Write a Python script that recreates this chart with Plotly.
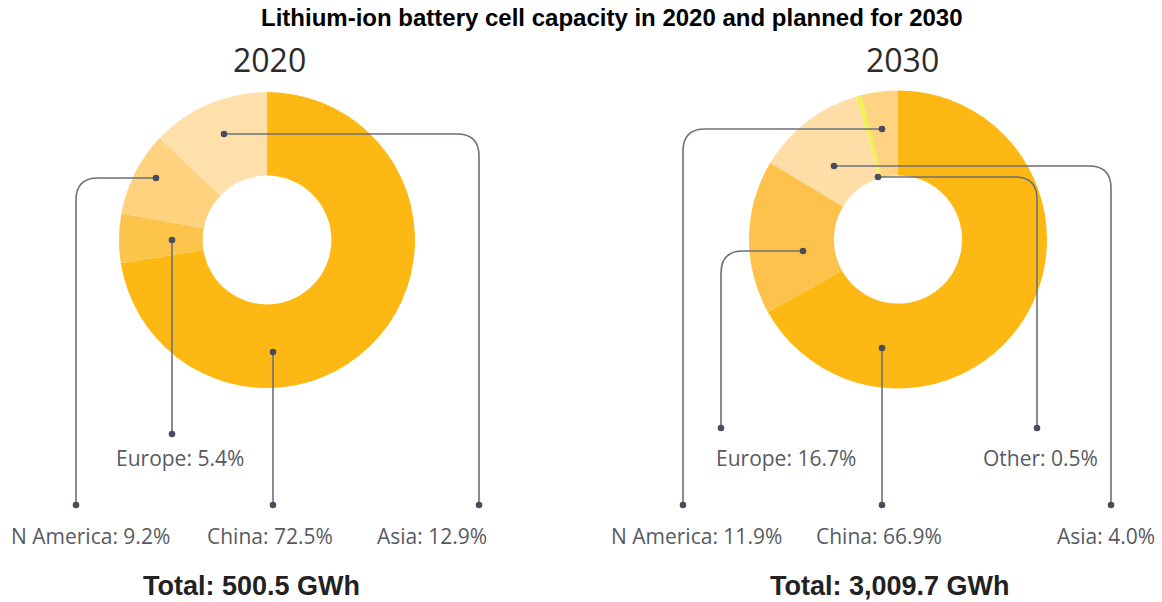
import plotly.graph_objects as go

# ---- data ----
regions_2020 = ["China", "Europe", "N America", "Asia"]
share_2020 = [72.5, 5.4, 9.2, 12.9]
colors_2020 = ["#FDB813", "#FDC44C", "#FED27F", "#FFE0AA"]

regions_2030 = ["China", "Europe", "N America", "Other", "Asia"]
share_2030 = [66.9, 16.7, 11.9, 0.5, 4.0]
colors_2030 = ["#FDB813", "#FDC24B", "#FFDDA6", "#EEF54A", "#FED382"]

totals = ["Total: 500.5 GWh", "Total: 3,009.7 GWh"]
years = ["2020", "2030"]

W, H = 1162, 602


def px(x):
    return x / W


def py(y):
    return 1 - y / H


fig = go.Figure()
fig.add_trace(go.Pie(
    labels=regions_2020, values=share_2020, sort=False, direction="clockwise",
    rotation=0, hole=0.435, textinfo="none", hoverinfo="label+percent",
    marker=dict(colors=colors_2020, line=dict(width=0)),
    domain=dict(x=[px(119), px(415)], y=[py(388), py(92)]), showlegend=False))
fig.add_trace(go.Pie(
    labels=regions_2030, values=share_2030, sort=False, direction="clockwise",
    rotation=0, hole=0.43, textinfo="none", hoverinfo="label+percent",
    marker=dict(colors=colors_2030, line=dict(width=0)),
    domain=dict(x=[px(749), px(1047)], y=[py(389), py(90)]), showlegend=False))

# ---- leader lines: (start_x, start_y, corner_x, end_y) in pixels ----
leaders = [
    (224, 134, 479, 505),   # 2020 Asia
    (156, 178, 76, 505),    # 2020 N America
    (172, 240, 172, 434),   # 2020 Europe
    (273, 352, 273, 505),   # 2020 China
    (882, 129, 683, 505),   # 2030 N America
    (834, 166, 1111, 505),  # 2030 Asia
    (878, 177, 1037, 428),  # 2030 Other
    (803, 251, 721, 428),   # 2030 Europe
    (882, 348, 882, 505),   # 2030 China
]
line_col = "#6E6F7C"
dot_col = "#4A4B5C"
shapes = []
r = 22
for x0, y0, xc, y1 in leaders:
    if xc == x0:
        path = f"M {px(x0)} {py(y0)} L {px(x0)} {py(y1)}"
    else:
        s = 1 if xc > x0 else -1
        path = (f"M {px(x0)} {py(y0)} L {px(xc - s * r)} {py(y0)} "
                f"Q {px(xc)} {py(y0)} {px(xc)} {py(y0 + r)} L {px(xc)} {py(y1)}")
    shapes.append(dict(type="path", path=path, xref="paper", yref="paper",
                       line=dict(color=line_col, width=1.6)))
    for (cx, cy) in [(x0, y0), (xc, y1)]:
        rd = 3.3
        shapes.append(dict(type="circle", xref="paper", yref="paper",
                           x0=px(cx - rd), x1=px(cx + rd), y0=py(cy + rd), y1=py(cy - rd),
                           fillcolor=dot_col, line=dict(width=0)))

# ---- labels: (x, y, anchor) per region ----
label_font = dict(family="Open Sans", size=21, color="#585A62")
annotations = []
lab2020 = {"China": (270, 536, "center"), "Europe": (180, 458, "center"),
           "N America": (172, 536, "right"), "Asia": (489, 536, "right")}
lab2030 = {"China": (879, 536, "center"), "Europe": (786, 458, "center"),
           "N America": (696, 536, "center"), "Other": (1040, 458, "center"),
           "Asia": (1157, 536, "right")}
for regs, vals, labs in [(regions_2020, share_2020, lab2020), (regions_2030, share_2030, lab2030)]:
    for reg, v in zip(regs, vals):
        x, y, anc = labs[reg]
        annotations.append(dict(text=f"{reg}: {v:.1f}%", x=px(x), y=py(y), xref="paper",
                                yref="paper", xanchor=anc, yanchor="middle",
                                showarrow=False, font=label_font))

for yr, xc in zip(years, [269, 902]):
    annotations.append(dict(text=yr, x=px(xc), y=py(60), xref="paper", yref="paper",
                            xanchor="center", yanchor="middle", showarrow=False,
                            font=dict(family="Open Sans", size=32, color="#2B2B2B")))
for t, xc in zip(totals, [251, 890]):
    annotations.append(dict(text=f"<b>{t}</b>", x=px(xc), y=py(586), xref="paper",
                            yref="paper", xanchor="center", yanchor="middle",
                            showarrow=False,
                            font=dict(family="Liberation Sans, Arial", size=27, color="#222222")))

annotations.append(dict(text="<b>Lithium-ion battery cell capacity in 2020 and planned for 2030</b>",
                        x=px(612), y=py(18), xref="paper", yref="paper", xanchor="center",
                        yanchor="middle", showarrow=False,
                        font=dict(family="Liberation Sans, Arial", size=24, color="#000000")))

fig.update_layout(width=W, height=H, margin=dict(l=0, r=0, t=0, b=0),
                  paper_bgcolor="white", plot_bgcolor="white",
                  shapes=shapes, annotations=annotations)

fig.write_html("out.html")
